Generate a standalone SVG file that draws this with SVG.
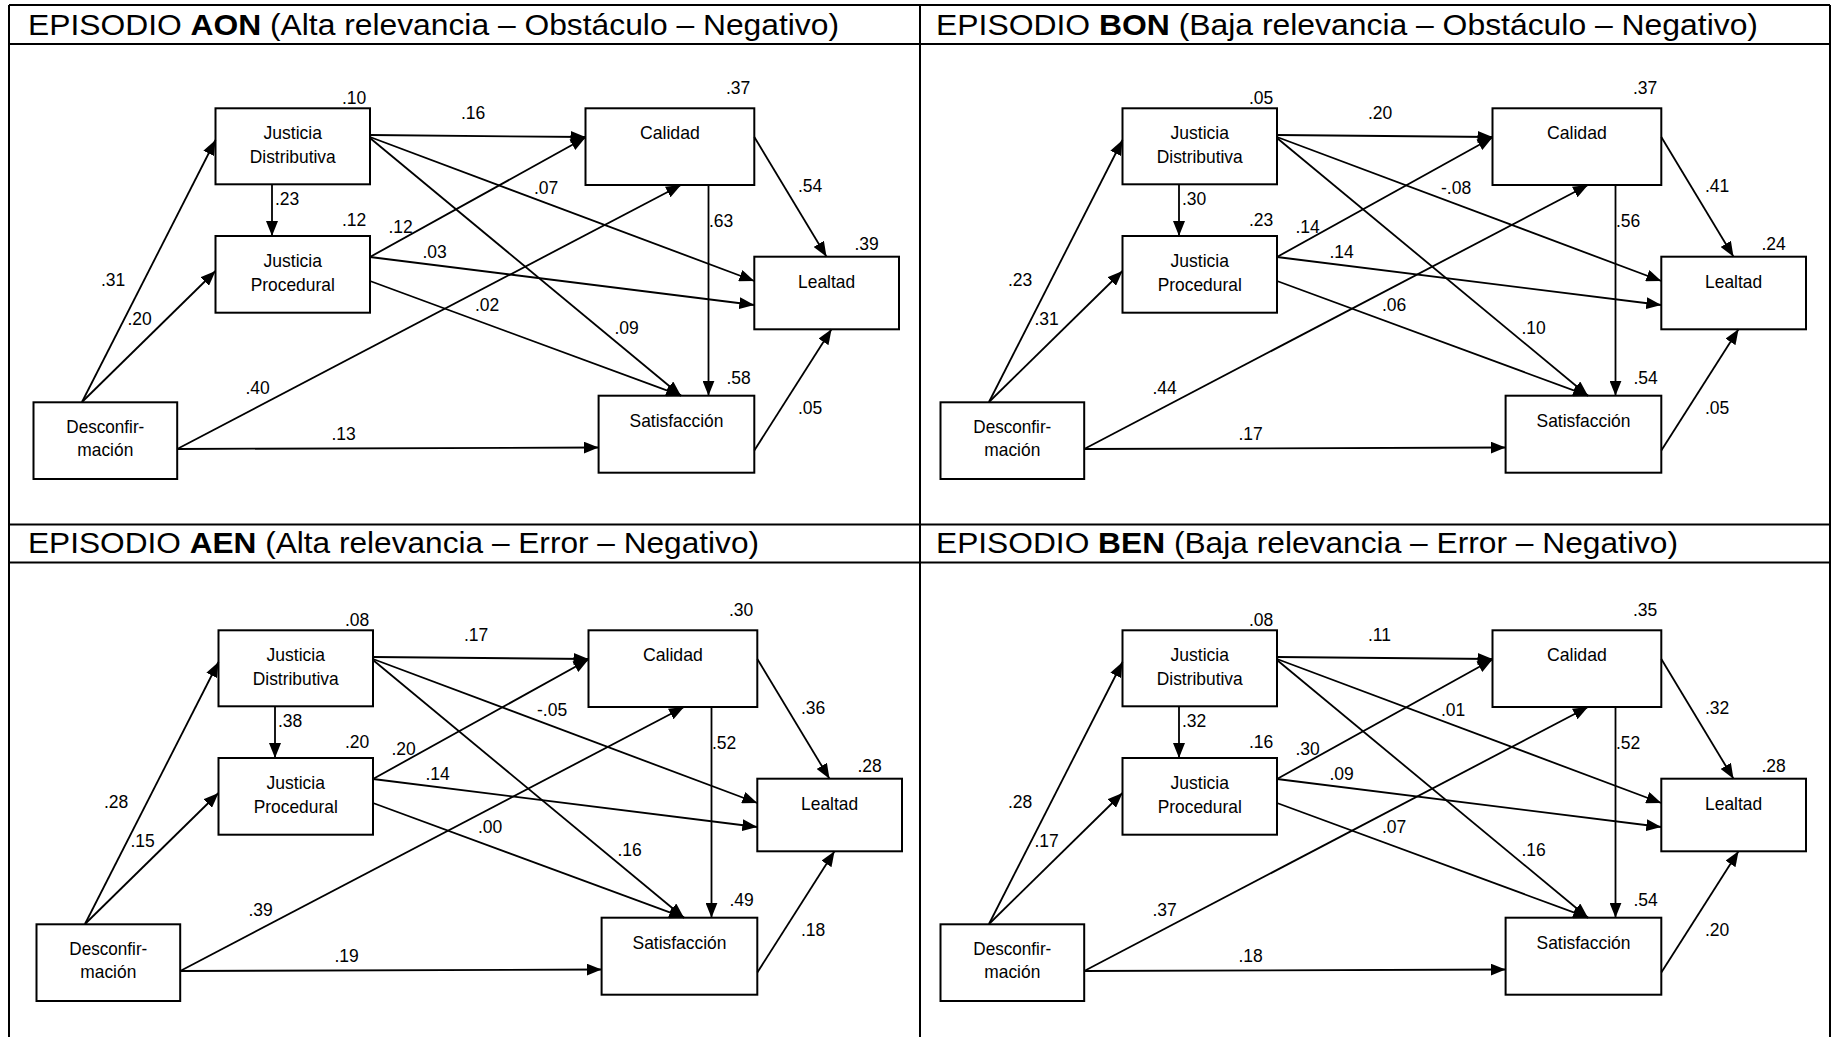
<svg xmlns="http://www.w3.org/2000/svg" width="1832" height="1037" viewBox="0 0 1832 1037">
<defs>
<marker id="ah" viewBox="0 0 15 12" refX="15" refY="6" markerWidth="15" markerHeight="12" markerUnits="userSpaceOnUse" orient="auto"><path d="M0,0 L15,6 L0,12 Z" fill="#000"/></marker>
<style>
.frame{stroke:#000;stroke-width:2;fill:none}
.title{font-family:"Liberation Sans",Arial,sans-serif;font-size:30px;fill:#000}
.box{fill:#fff;stroke:#000;stroke-width:2}
.nt{font-family:"Liberation Sans",Arial,sans-serif;font-size:19px;text-anchor:middle;fill:#000}
.lb{font-family:"Liberation Sans",Arial,sans-serif;font-size:17.5px;fill:#000}
.cn line{stroke:#000;stroke-width:1.8;marker-end:url(#ah)}
</style>
</defs>
<rect width="1832" height="1037" fill="#fff"/>

<!-- table frame -->
<g id="frame" class="frame">
<line x1="9" y1="5" x2="1830" y2="5"/>
<line x1="9" y1="44" x2="1830" y2="44"/>
<line x1="9" y1="524.5" x2="1830" y2="524.5"/>
<line x1="9" y1="562.5" x2="1830" y2="562.5"/>
<line x1="9" y1="5" x2="9" y2="1037"/>
<line x1="920" y1="5" x2="920" y2="1037"/>
<line x1="1830" y1="5" x2="1830" y2="1037"/>
</g>

<!-- cell headings -->
<g id="titles">
<text class="title" x="28" y="35" textLength="811" lengthAdjust="spacingAndGlyphs">EPISODIO <tspan font-weight="bold">AON</tspan> (Alta relevancia – Obstáculo – Negativo)</text>
<text class="title" x="936" y="35" textLength="822" lengthAdjust="spacingAndGlyphs">EPISODIO <tspan font-weight="bold">BON</tspan> (Baja relevancia – Obstáculo – Negativo)</text>
<text class="title" x="28" y="553" textLength="731" lengthAdjust="spacingAndGlyphs">EPISODIO <tspan font-weight="bold">AEN</tspan> (Alta relevancia – Error – Negativo)</text>
<text class="title" x="936" y="553" textLength="742" lengthAdjust="spacingAndGlyphs">EPISODIO <tspan font-weight="bold">BEN</tspan> (Baja relevancia – Error – Negativo)</text>
</g>

<!-- ===== AON ===== -->
<g id="aon" transform="translate(0,0)">
<g id="aon-jd"><rect class="box" x="215.5" y="108.3" width="154.5" height="76"/><text class="nt" x="292.75" y="139" textLength="58.5" lengthAdjust="spacingAndGlyphs">Justicia</text><text class="nt" x="292.75" y="162.7" textLength="86" lengthAdjust="spacingAndGlyphs">Distributiva</text><text class="lb" x="342" y="104">.10</text></g>
<g id="aon-jp"><rect class="box" x="215.5" y="236" width="154.5" height="76.7"/><text class="nt" x="292.75" y="267" textLength="58.5" lengthAdjust="spacingAndGlyphs">Justicia</text><text class="nt" x="292.75" y="290.7" textLength="84" lengthAdjust="spacingAndGlyphs">Procedural</text><text class="lb" x="342" y="225.5">.12</text></g>
<g id="aon-cal"><rect class="box" x="585.5" y="108.3" width="168.8" height="76.7"/><text class="nt" x="669.9" y="139" textLength="60" lengthAdjust="spacingAndGlyphs">Calidad</text><text class="lb" x="726" y="94">.37</text></g>
<g id="aon-leal"><rect class="box" x="754.3" y="256.7" width="144.7" height="72.6"/><text class="nt" x="826.6" y="288" textLength="57" lengthAdjust="spacingAndGlyphs">Lealtad</text><text class="lb" x="854.5" y="249.5">.39</text></g>
<g id="aon-sat"><rect class="box" x="598.6" y="395.7" width="155.7" height="77"/><text class="nt" x="676.5" y="427" textLength="94" lengthAdjust="spacingAndGlyphs">Satisfacción</text><text class="lb" x="726.5" y="383.5">.58</text></g>
<g id="aon-desc"><rect class="box" x="33.5" y="402.3" width="143.7" height="76.7"/><text class="nt" x="105.3" y="433.3" textLength="78" lengthAdjust="spacingAndGlyphs">Desconfir-</text><text class="nt" x="105.3" y="456.3" textLength="56" lengthAdjust="spacingAndGlyphs">mación</text></g>
<g id="aon-connectors" class="cn">
<line x1="82" y1="402" x2="215.5" y2="140"/>
<line x1="82" y1="402" x2="215.5" y2="271"/>
<line x1="272" y1="184.3" x2="272" y2="236"/>
<line x1="370" y1="135" x2="585.5" y2="137"/>
<line x1="370" y1="137" x2="754.3" y2="281"/>
<line x1="370" y1="138" x2="681" y2="395.7"/>
<line x1="370" y1="257" x2="585.5" y2="137.5"/>
<line x1="370" y1="257" x2="754.3" y2="305"/>
<line x1="370" y1="281" x2="681" y2="395.7"/>
<line x1="177.2" y1="449" x2="681" y2="185"/>
<line x1="177.2" y1="449" x2="598.6" y2="447.5"/>
<line x1="708.5" y1="185" x2="708.5" y2="395.7"/>
<line x1="754.3" y1="137" x2="826.5" y2="256.7"/>
<line x1="754.3" y1="450.5" x2="831.5" y2="329.3"/>
<text class="lb" x="461" y="118.5">.16</text>
<text class="lb" x="534" y="193.5">.07</text>
<text class="lb" x="798" y="191.5">.54</text>
<text class="lb" x="275" y="204.5">.23</text>
<text class="lb" x="388.5" y="232.5">.12</text>
<text class="lb" x="709" y="226.5">.63</text>
<text class="lb" x="422.5" y="257.5">.03</text>
<text class="lb" x="101" y="285.5">.31</text>
<text class="lb" x="475" y="310.5">.02</text>
<text class="lb" x="127.5" y="324.5">.20</text>
<text class="lb" x="614.5" y="333.5">.09</text>
<text class="lb" x="245.5" y="393.5">.40</text>
<text class="lb" x="798" y="413.5">.05</text>
<text class="lb" x="331.5" y="439.5">.13</text>
</g>
</g>

<!-- ===== BON ===== -->
<g id="bon" transform="translate(907,0)">
<g id="bon-jd"><rect class="box" x="215.5" y="108.3" width="154.5" height="76"/><text class="nt" x="292.75" y="139" textLength="58.5" lengthAdjust="spacingAndGlyphs">Justicia</text><text class="nt" x="292.75" y="162.7" textLength="86" lengthAdjust="spacingAndGlyphs">Distributiva</text><text class="lb" x="342" y="104">.05</text></g>
<g id="bon-jp"><rect class="box" x="215.5" y="236" width="154.5" height="76.7"/><text class="nt" x="292.75" y="267" textLength="58.5" lengthAdjust="spacingAndGlyphs">Justicia</text><text class="nt" x="292.75" y="290.7" textLength="84" lengthAdjust="spacingAndGlyphs">Procedural</text><text class="lb" x="342" y="225.5">.23</text></g>
<g id="bon-cal"><rect class="box" x="585.5" y="108.3" width="168.8" height="76.7"/><text class="nt" x="669.9" y="139" textLength="60" lengthAdjust="spacingAndGlyphs">Calidad</text><text class="lb" x="726" y="94">.37</text></g>
<g id="bon-leal"><rect class="box" x="754.3" y="256.7" width="144.7" height="72.6"/><text class="nt" x="826.6" y="288" textLength="57" lengthAdjust="spacingAndGlyphs">Lealtad</text><text class="lb" x="854.5" y="249.5">.24</text></g>
<g id="bon-sat"><rect class="box" x="598.6" y="395.7" width="155.7" height="77"/><text class="nt" x="676.5" y="427" textLength="94" lengthAdjust="spacingAndGlyphs">Satisfacción</text><text class="lb" x="726.5" y="383.5">.54</text></g>
<g id="bon-desc"><rect class="box" x="33.5" y="402.3" width="143.7" height="76.7"/><text class="nt" x="105.3" y="433.3" textLength="78" lengthAdjust="spacingAndGlyphs">Desconfir-</text><text class="nt" x="105.3" y="456.3" textLength="56" lengthAdjust="spacingAndGlyphs">mación</text></g>
<g id="bon-connectors" class="cn">
<line x1="82" y1="402" x2="215.5" y2="140"/>
<line x1="82" y1="402" x2="215.5" y2="271"/>
<line x1="272" y1="184.3" x2="272" y2="236"/>
<line x1="370" y1="135" x2="585.5" y2="137"/>
<line x1="370" y1="137" x2="754.3" y2="281"/>
<line x1="370" y1="138" x2="681" y2="395.7"/>
<line x1="370" y1="257" x2="585.5" y2="137.5"/>
<line x1="370" y1="257" x2="754.3" y2="305"/>
<line x1="370" y1="281" x2="681" y2="395.7"/>
<line x1="177.2" y1="449" x2="681" y2="185"/>
<line x1="177.2" y1="449" x2="598.6" y2="447.5"/>
<line x1="708.5" y1="185" x2="708.5" y2="395.7"/>
<line x1="754.3" y1="137" x2="826.5" y2="256.7"/>
<line x1="754.3" y1="450.5" x2="831.5" y2="329.3"/>
<text class="lb" x="461" y="118.5">.20</text>
<text class="lb" x="534" y="193.5">-.08</text>
<text class="lb" x="798" y="191.5">.41</text>
<text class="lb" x="275" y="204.5">.30</text>
<text class="lb" x="388.5" y="232.5">.14</text>
<text class="lb" x="709" y="226.5">.56</text>
<text class="lb" x="422.5" y="257.5">.14</text>
<text class="lb" x="101" y="285.5">.23</text>
<text class="lb" x="475" y="310.5">.06</text>
<text class="lb" x="127.5" y="324.5">.31</text>
<text class="lb" x="614.5" y="333.5">.10</text>
<text class="lb" x="245.5" y="393.5">.44</text>
<text class="lb" x="798" y="413.5">.05</text>
<text class="lb" x="331.5" y="439.5">.17</text>
</g>
</g>

<!-- ===== AEN ===== -->
<g id="aen" transform="translate(3,522)">
<g id="aen-jd"><rect class="box" x="215.5" y="108.3" width="154.5" height="76"/><text class="nt" x="292.75" y="139" textLength="58.5" lengthAdjust="spacingAndGlyphs">Justicia</text><text class="nt" x="292.75" y="162.7" textLength="86" lengthAdjust="spacingAndGlyphs">Distributiva</text><text class="lb" x="342" y="104">.08</text></g>
<g id="aen-jp"><rect class="box" x="215.5" y="236" width="154.5" height="76.7"/><text class="nt" x="292.75" y="267" textLength="58.5" lengthAdjust="spacingAndGlyphs">Justicia</text><text class="nt" x="292.75" y="290.7" textLength="84" lengthAdjust="spacingAndGlyphs">Procedural</text><text class="lb" x="342" y="225.5">.20</text></g>
<g id="aen-cal"><rect class="box" x="585.5" y="108.3" width="168.8" height="76.7"/><text class="nt" x="669.9" y="139" textLength="60" lengthAdjust="spacingAndGlyphs">Calidad</text><text class="lb" x="726" y="94">.30</text></g>
<g id="aen-leal"><rect class="box" x="754.3" y="256.7" width="144.7" height="72.6"/><text class="nt" x="826.6" y="288" textLength="57" lengthAdjust="spacingAndGlyphs">Lealtad</text><text class="lb" x="854.5" y="249.5">.28</text></g>
<g id="aen-sat"><rect class="box" x="598.6" y="395.7" width="155.7" height="77"/><text class="nt" x="676.5" y="427" textLength="94" lengthAdjust="spacingAndGlyphs">Satisfacción</text><text class="lb" x="726.5" y="383.5">.49</text></g>
<g id="aen-desc"><rect class="box" x="33.5" y="402.3" width="143.7" height="76.7"/><text class="nt" x="105.3" y="433.3" textLength="78" lengthAdjust="spacingAndGlyphs">Desconfir-</text><text class="nt" x="105.3" y="456.3" textLength="56" lengthAdjust="spacingAndGlyphs">mación</text></g>
<g id="aen-connectors" class="cn">
<line x1="82" y1="402" x2="215.5" y2="140"/>
<line x1="82" y1="402" x2="215.5" y2="271"/>
<line x1="272" y1="184.3" x2="272" y2="236"/>
<line x1="370" y1="135" x2="585.5" y2="137"/>
<line x1="370" y1="137" x2="754.3" y2="281"/>
<line x1="370" y1="138" x2="681" y2="395.7"/>
<line x1="370" y1="257" x2="585.5" y2="137.5"/>
<line x1="370" y1="257" x2="754.3" y2="305"/>
<line x1="370" y1="281" x2="681" y2="395.7"/>
<line x1="177.2" y1="449" x2="681" y2="185"/>
<line x1="177.2" y1="449" x2="598.6" y2="447.5"/>
<line x1="708.5" y1="185" x2="708.5" y2="395.7"/>
<line x1="754.3" y1="137" x2="826.5" y2="256.7"/>
<line x1="754.3" y1="450.5" x2="831.5" y2="329.3"/>
<text class="lb" x="461" y="118.5">.17</text>
<text class="lb" x="534" y="193.5">-.05</text>
<text class="lb" x="798" y="191.5">.36</text>
<text class="lb" x="275" y="204.5">.38</text>
<text class="lb" x="388.5" y="232.5">.20</text>
<text class="lb" x="709" y="226.5">.52</text>
<text class="lb" x="422.5" y="257.5">.14</text>
<text class="lb" x="101" y="285.5">.28</text>
<text class="lb" x="475" y="310.5">.00</text>
<text class="lb" x="127.5" y="324.5">.15</text>
<text class="lb" x="614.5" y="333.5">.16</text>
<text class="lb" x="245.5" y="393.5">.39</text>
<text class="lb" x="798" y="413.5">.18</text>
<text class="lb" x="331.5" y="439.5">.19</text>
</g>
</g>

<!-- ===== BEN ===== -->
<g id="ben" transform="translate(907,522)">
<g id="ben-jd"><rect class="box" x="215.5" y="108.3" width="154.5" height="76"/><text class="nt" x="292.75" y="139" textLength="58.5" lengthAdjust="spacingAndGlyphs">Justicia</text><text class="nt" x="292.75" y="162.7" textLength="86" lengthAdjust="spacingAndGlyphs">Distributiva</text><text class="lb" x="342" y="104">.08</text></g>
<g id="ben-jp"><rect class="box" x="215.5" y="236" width="154.5" height="76.7"/><text class="nt" x="292.75" y="267" textLength="58.5" lengthAdjust="spacingAndGlyphs">Justicia</text><text class="nt" x="292.75" y="290.7" textLength="84" lengthAdjust="spacingAndGlyphs">Procedural</text><text class="lb" x="342" y="225.5">.16</text></g>
<g id="ben-cal"><rect class="box" x="585.5" y="108.3" width="168.8" height="76.7"/><text class="nt" x="669.9" y="139" textLength="60" lengthAdjust="spacingAndGlyphs">Calidad</text><text class="lb" x="726" y="94">.35</text></g>
<g id="ben-leal"><rect class="box" x="754.3" y="256.7" width="144.7" height="72.6"/><text class="nt" x="826.6" y="288" textLength="57" lengthAdjust="spacingAndGlyphs">Lealtad</text><text class="lb" x="854.5" y="249.5">.28</text></g>
<g id="ben-sat"><rect class="box" x="598.6" y="395.7" width="155.7" height="77"/><text class="nt" x="676.5" y="427" textLength="94" lengthAdjust="spacingAndGlyphs">Satisfacción</text><text class="lb" x="726.5" y="383.5">.54</text></g>
<g id="ben-desc"><rect class="box" x="33.5" y="402.3" width="143.7" height="76.7"/><text class="nt" x="105.3" y="433.3" textLength="78" lengthAdjust="spacingAndGlyphs">Desconfir-</text><text class="nt" x="105.3" y="456.3" textLength="56" lengthAdjust="spacingAndGlyphs">mación</text></g>
<g id="ben-connectors" class="cn">
<line x1="82" y1="402" x2="215.5" y2="140"/>
<line x1="82" y1="402" x2="215.5" y2="271"/>
<line x1="272" y1="184.3" x2="272" y2="236"/>
<line x1="370" y1="135" x2="585.5" y2="137"/>
<line x1="370" y1="137" x2="754.3" y2="281"/>
<line x1="370" y1="138" x2="681" y2="395.7"/>
<line x1="370" y1="257" x2="585.5" y2="137.5"/>
<line x1="370" y1="257" x2="754.3" y2="305"/>
<line x1="370" y1="281" x2="681" y2="395.7"/>
<line x1="177.2" y1="449" x2="681" y2="185"/>
<line x1="177.2" y1="449" x2="598.6" y2="447.5"/>
<line x1="708.5" y1="185" x2="708.5" y2="395.7"/>
<line x1="754.3" y1="137" x2="826.5" y2="256.7"/>
<line x1="754.3" y1="450.5" x2="831.5" y2="329.3"/>
<text class="lb" x="461" y="118.5">.11</text>
<text class="lb" x="534" y="193.5">.01</text>
<text class="lb" x="798" y="191.5">.32</text>
<text class="lb" x="275" y="204.5">.32</text>
<text class="lb" x="388.5" y="232.5">.30</text>
<text class="lb" x="709" y="226.5">.52</text>
<text class="lb" x="422.5" y="257.5">.09</text>
<text class="lb" x="101" y="285.5">.28</text>
<text class="lb" x="475" y="310.5">.07</text>
<text class="lb" x="127.5" y="324.5">.17</text>
<text class="lb" x="614.5" y="333.5">.16</text>
<text class="lb" x="245.5" y="393.5">.37</text>
<text class="lb" x="798" y="413.5">.20</text>
<text class="lb" x="331.5" y="439.5">.18</text>
</g>
</g>
</svg>
